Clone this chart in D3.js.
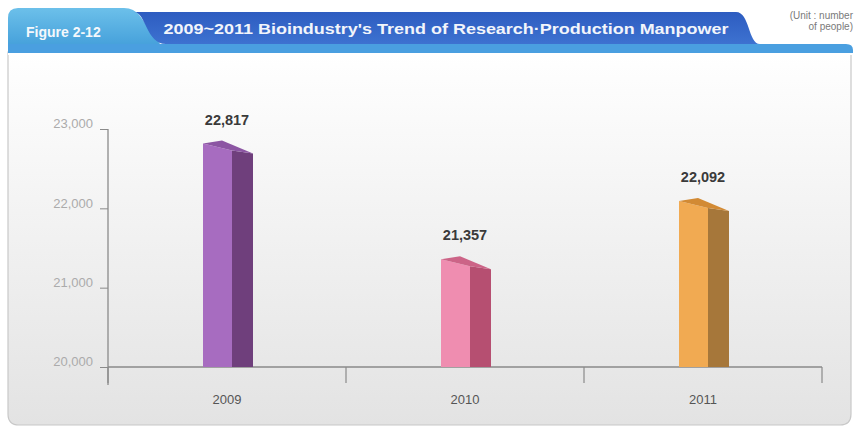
<!DOCTYPE html>
<html>
<head>
<meta charset="utf-8">
<script src="https://cdn.jsdelivr.net/npm/d3@7"></script>
<style>
  html, body { margin: 0; padding: 0; background: #ffffff; }
  svg { display: block; }
  text { font-family: "Liberation Sans", Arial, sans-serif; }
</style>
</head>
<body>
<svg id="chart" width="856" height="431"></svg>
<script>
// ---- data ----
const categories = ["2009", "2010", "2011"];
const values = [22817, 21357, 22092];
const valueLabels = ["22,817", "21,357", "22,092"];
const yTicks = [20000, 21000, 22000, 23000];
const yTickLabels = ["20,000", "21,000", "22,000", "23,000"];
const figureLabel = "Figure 2-12";
const titleText = "2009~2011 Bioindustry's Trend of Research\u00B7Production Manpower";
const unitLines = ["(Unit : number", "of people)"];

// colours per bar: front, side, top
const barColors = [
  { front: "#a76cc0", side: "#6f3f7c", top: "#8c56a3" },
  { front: "#ef8db0", side: "#b64f71", top: "#cc6487" },
  { front: "#f1aa52", side: "#a6773a", top: "#d28a34" }
];

const svg = d3.select("#chart");
const defs = svg.append("defs");

// gradients
const pg = defs.append("linearGradient").attr("id", "panelGrad").attr("x1", 0).attr("y1", 0).attr("x2", 0).attr("y2", 1);
pg.append("stop").attr("offset", "0%").attr("stop-color", "#ffffff");
pg.append("stop").attr("offset", "100%").attr("stop-color", "#e3e3e3");

const lg = defs.append("linearGradient").attr("id", "tabGrad").attr("x1", 0).attr("y1", 0).attr("x2", 0).attr("y2", 1);
lg.append("stop").attr("offset", "0%").attr("stop-color", "#6cc0ea");
lg.append("stop").attr("offset", "100%").attr("stop-color", "#3f9bd8");

const dg = defs.append("linearGradient").attr("id", "banGrad").attr("x1", 0).attr("y1", 0).attr("x2", 0).attr("y2", 1);
dg.append("stop").attr("offset", "0%").attr("stop-color", "#2d5cc0");
dg.append("stop").attr("offset", "100%").attr("stop-color", "#3d72d0");

// ---- panel ----
svg.append("path")
  .attr("d", "M8,52 L851,52 L851,414 Q851,425 840,425 L19,425 Q8,425 8,414 Z")
  .attr("fill", "url(#panelGrad)")
  .attr("stroke", "#c8c8c8")
  .attr("stroke-width", 1.2);

// ---- header ----
svg.append("path")
  .attr("d", "M8,52 L8,18 Q8,8 18,8 L124,8 Q134,8 140,16 L160,44 L200,44 L200,52 Z")
  .attr("fill", "url(#tabGrad)");

svg.append("path")
  .attr("d", "M134,12 C146,12 146,44 166,44 L760,44 C748,44 750,12 736,12 Z")
  .attr("fill", "url(#banGrad)");

svg.append("path")
  .attr("d", "M8,44 L846,44 Q853,44 853,50 L853,53 L8,53 Z")
  .attr("fill", "#4a9fe0");
svg.append("rect").attr("x", 8).attr("y", 53).attr("width", 845).attr("height", 2).attr("fill", "#ffffff");

svg.append("text")
  .attr("x", 26).attr("y", 37)
  .attr("fill", "#f4f8fc").attr("font-size", 14).attr("font-weight", "bold")
  .text(figureLabel);

svg.append("text")
  .attr("x", 446).attr("y", 34)
  .attr("text-anchor", "middle")
  .attr("fill", "#f2f5fb").attr("font-size", 15.5).attr("font-weight", "bold")
  .attr("textLength", 565).attr("lengthAdjust", "spacingAndGlyphs")
  .text(titleText);

svg.selectAll("text.unit").data(unitLines).join("text")
  .attr("class", "unit")
  .attr("x", 853).attr("y", (d, i) => 19 + i * 11)
  .attr("text-anchor", "end")
  .attr("fill", "#7a7a7a").attr("font-size", 10)
  .text(d => d);

// ---- scales ----
const x = d3.scaleBand().domain(categories).range([108, 822]);
const y = d3.scaleLinear().domain([20000, 23000]).range([367, 129]);

const axisColor = "#8a8a8a";

// y axis
const yAxis = d3.axisLeft(y).tickValues(yTicks).tickSize(8).tickFormat((d, i) => yTickLabels[i]);
const gy = svg.append("g").attr("transform", "translate(108,0)").call(yAxis);
gy.select(".domain").remove();
gy.selectAll(".tick line").attr("stroke", axisColor);
gy.selectAll(".tick text")
  .attr("fill", "#ababab").attr("font-size", 13).attr("dx", "-4").attr("dy", "-0.1em");
svg.append("line")
  .attr("x1", 108).attr("x2", 108).attr("y1", y(23000)).attr("y2", 385)
  .attr("stroke", axisColor).attr("stroke-width", 1.3);

// x axis
svg.append("line")
  .attr("x1", 108).attr("x2", 822).attr("y1", y(20000)).attr("y2", y(20000))
  .attr("stroke", axisColor).attr("stroke-width", 1.3);
const bounds = categories.map(c => x(c)).concat([x.range()[1]]);
svg.selectAll("line.xtick").data(bounds).join("line")
  .attr("class", "xtick")
  .attr("x1", d => d).attr("x2", d => d)
  .attr("y1", y(20000)).attr("y2", 383)
  .attr("stroke", axisColor).attr("stroke-width", 1.2);
svg.selectAll("text.xlab").data(categories).join("text")
  .attr("class", "xlab")
  .attr("x", d => x(d) + x.bandwidth() / 2)
  .attr("y", 404)
  .attr("text-anchor", "middle")
  .attr("fill", "#555555").attr("font-size", 13)
  .text(d => d);

// ---- bars (pseudo-3D) ----
const frontW = 29, sideW = 21;
const base = y(20000);
const bars = svg.selectAll("g.bar").data(values).join("g").attr("class", "bar");

bars.each(function (v, i) {
  const g = d3.select(this);
  const cx = x(categories[i]) + x.bandwidth() / 2;
  const x0 = cx - 24;
  const y0 = y(v);
  const c = barColors[i];
  // front face
  g.append("path")
    .attr("d", `M${x0},${base} L${x0},${y0} L${x0 + frontW},${y0 + 7} L${x0 + frontW},${base} Z`)
    .attr("fill", c.front);
  // side face
  g.append("path")
    .attr("d", `M${x0 + frontW},${base} L${x0 + frontW},${y0 + 7} L${x0 + frontW + sideW},${y0 + 10} L${x0 + frontW + sideW},${base} Z`)
    .attr("fill", c.side);
  // top face
  g.append("path")
    .attr("d", `M${x0},${y0} L${x0 + 19},${y0 - 3} L${x0 + frontW + sideW},${y0 + 10} L${x0 + frontW},${y0 + 7} Z`)
    .attr("fill", c.top);
  // value label
  g.append("text")
    .attr("x", cx).attr("y", y0 - 19)
    .attr("text-anchor", "middle")
    .attr("fill", "#3a3a3a").attr("font-size", 14.5).attr("font-weight", "bold")
    .text(valueLabels[i]);
});
</script>
</body>
</html>
